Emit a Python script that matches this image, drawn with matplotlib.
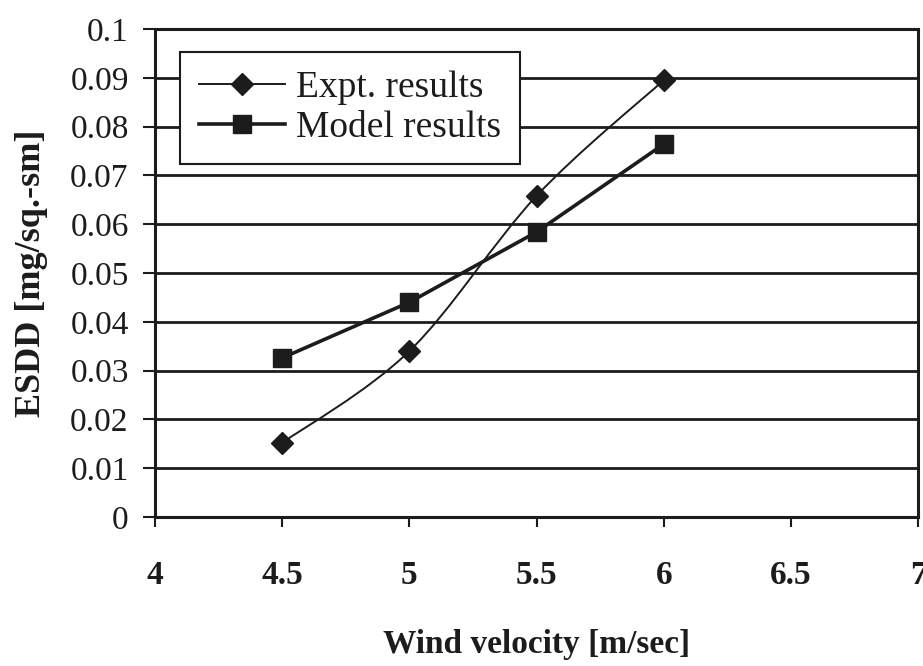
# ESDD vs wind velocity

# Imports
import matplotlib
matplotlib.use("Agg")
import matplotlib.pyplot as plt
from matplotlib.path import Path
from matplotlib.patches import PathPatch
from matplotlib.lines import Line2D
import numpy as np

# Data
wind = [4.5, 5.0, 5.5, 6.0]
esdd_expt = [0.0152, 0.034, 0.0658, 0.0895]
esdd_model = [0.0326, 0.044, 0.0584, 0.0764]
x_ticks = [4, 4.5, 5, 5.5, 6, 6.5, 7]
x_tick_labels = ["4", "4.5", "5", "5.5", "6", "6.5", "7"]
y_ticks = [0, 0.01, 0.02, 0.03, 0.04, 0.05, 0.06, 0.07, 0.08, 0.09, 0.1]
y_tick_labels = ["0", "0.01", "0.02", "0.03", "0.04", "0.05", "0.06", "0.07", "0.08", "0.09", "0.1"]

plt.rcParams["font.family"] = ["Liberation Serif", "DejaVu Serif"]
ink = "#1c1c1c"

fig = plt.figure(figsize=(9.23, 6.66), dpi=100)
ax = fig.add_axes([0.168, 0.2237, 0.8266, 0.7328])

# Horizontal grid
for yv in y_ticks:
    ax.axhline(yv, color=ink, lw=2.0, zorder=1)

# Smoothed expt line (bezier through the points)
pts = np.column_stack([wind, esdd_expt])
verts = [pts[0]]
codes = [Path.MOVETO]
n = len(pts)
for i in range(n - 1):
    p_prev = pts[max(i - 1, 0)]
    p0 = pts[i]
    p1 = pts[i + 1]
    p_next = pts[min(i + 2, n - 1)]
    c1 = p0 + (p1 - p_prev) / 6.0
    c2 = p1 - (p_next - p0) / 6.0
    verts += [c1, c2, p1]
    codes += [Path.CURVE4] * 3
ax.add_patch(PathPatch(Path(verts, codes), facecolor="none", edgecolor=ink, lw=1.4, zorder=3))
ax.plot(wind, esdd_expt, ls="none", marker="D", ms=11, color=ink, zorder=4)

# Model line
ax.plot(wind, esdd_model, ls="-", lw=2.6, marker="s", ms=13, color=ink, zorder=4)

# Axes
ax.set_xlim(4, 7)
ax.set_ylim(0, 0.1)
ax.set_xticks(x_ticks)
ax.set_xticklabels(x_tick_labels, fontsize=24, fontweight="bold", color=ink)
ax.set_yticks(y_ticks)
ax.set_yticklabels(y_tick_labels, fontsize=24, color=ink)
ax.tick_params(axis="x", direction="out", length=7, width=1.5, pad=24, colors=ink)
ax.tick_params(axis="y", direction="out", length=9, width=1.5, pad=10, colors=ink)
for side in ["left", "bottom", "right", "top"]:
    ax.spines[side].set_color(ink)
    ax.spines[side].set_linewidth(2.2)

ax.set_xlabel("Wind velocity [m/sec]", fontsize=24, fontweight="bold", color=ink, labelpad=27)
ax.set_ylabel("ESDD [mg/sq.-sm]", fontsize=26, fontweight="bold", color=ink, labelpad=16)

# Legend
h1 = Line2D([], [], color=ink, lw=1.4, marker="D", ms=11)
h2 = Line2D([], [], color=ink, lw=2.6, marker="s", ms=13)
leg = ax.legend([h1, h2], ["Expt. results", "Model results"], loc="upper left",
                bbox_to_anchor=(0.033, 0.953), borderaxespad=0, fancybox=False,
                fontsize=27, handlelength=2.3, handletextpad=0.3, labelspacing=0.15,
                borderpad=0.5, framealpha=1)
leg.get_frame().set_edgecolor(ink)
leg.get_frame().set_linewidth(1.5)
for t in leg.get_texts():
    t.set_color(ink)

plt.savefig("out.png", dpi=100)
